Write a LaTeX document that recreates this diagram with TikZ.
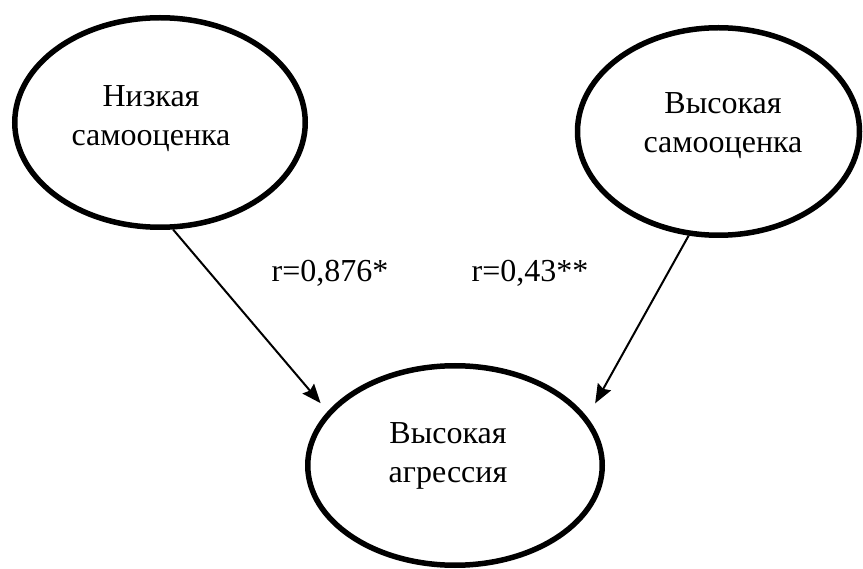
\documentclass[tikz,border=0pt]{standalone}
\usepackage{fontspec}
\setmainfont{Liberation Serif}
\usetikzlibrary{shapes.geometric,arrows.meta}
\begin{document}
\begin{tikzpicture}[x=1pt,y=-1pt,
  oval/.style={ellipse,draw,line width=5.5pt,inner sep=0pt},
  lbl/.style={font=\fontsize{32}{39}\selectfont,align=center,inner sep=0pt},
  rlbl/.style={font=\fontsize{32}{39}\selectfont,inner sep=0pt,anchor=base},
  conn/.style={line width=2pt,-{Stealth[length=19pt,width=15pt,inset=2.5pt]}}]
\useasboundingbox (0,0) rectangle (863,569);
\node[oval,minimum width=290.5pt,minimum height=209.5pt] (low) at (160,122.5) {};
\node[oval,minimum width=282pt,minimum height=207.5pt] (high) at (718.5,131.5) {};
\node[oval,minimum width=294.5pt,minimum height=199.5pt] (agg) at (455,465.5) {};
\node[lbl] (lowt) at (151,118.5) {Низкая\\самооценка};
\node[lbl] (hight) at (723,125.5) {Высокая\\самооценка};
\node[lbl] (aggt) at (448,456) {Высокая\\агрессия};
\node[rlbl] (r1) at (330,282) {r=0,876*};
\node[rlbl] (r2) at (530,282) {r=0,43**};
\draw[conn,shorten >=10.8pt] (low.-83.3) -- (agg.157.4);
\draw[conn,shorten >=16pt] (high.-106.1) -- (agg.20.7);
\end{tikzpicture}
\end{document}
